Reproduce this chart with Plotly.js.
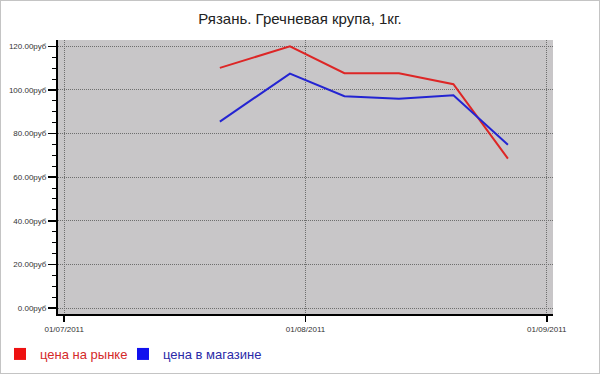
<!DOCTYPE html>
<html>
<head>
<meta charset="utf-8">
<script src="https://cdn.plot.ly/plotly-3.0.1.min.js"></script>
<style>
html,body{margin:0;padding:0;background:#fff;}
#chart{width:600px;height:374px;outline:1px solid #c4c4c4;outline-offset:-1px;}
</style>
</head>
<body>
<div id="chart"></div>
<script>
var dates = ['2011-07-21', '2011-07-30', '2011-08-06', '2011-08-13', '2011-08-20', '2011-08-27'];
var marketPrice = [110.1, 120.0, 107.7, 107.7, 102.6, 68.5];
var storePrice = [85.5, 107.5, 97.1, 96.0, 97.6, 74.9];
var seriesNames = ['цена на рынке', 'цена в магазине'];
var seriesColors = ['#dd2626', '#2424d2'];
var legendSwatchColors = ['#ee1111', '#1111ee'];
var legendTextColors = ['#d42a2a', '#2a2aa8'];
var titleText = 'Рязань. Гречневая крупа, 1кг.';

var traces = [
  {x: dates, y: marketPrice, type: 'scatter', mode: 'lines', line: {color: seriesColors[0], width: 2}, showlegend: false, legendgroup: 'a', hoverinfo: 'x+y'},
  {x: dates, y: storePrice, type: 'scatter', mode: 'lines', line: {color: seriesColors[1], width: 2}, showlegend: false, legendgroup: 'b', hoverinfo: 'x+y'},
  {x: [null], y: [null], type: 'bar', marker: {color: legendSwatchColors[0]}, legendgroup: 'a', legend: 'legend',
   name: '<span style="color:' + legendTextColors[0] + '">' + seriesNames[0] + '</span>'},
  {x: [null], y: [null], type: 'bar', marker: {color: legendSwatchColors[1]}, legendgroup: 'b', legend: 'legend2',
   name: '<span style="color:' + legendTextColors[1] + '">' + seriesNames[1] + '</span>'}
];

var legendFont = {family: 'Arial, "Liberation Sans", sans-serif', size: 13};

var layout = {
  width: 600, height: 374,
  paper_bgcolor: 'rgba(0,0,0,0)',
  plot_bgcolor: '#c8c6c8',
  margin: {l: 58, r: 47, t: 40, b: 60},
  font: {family: 'Arial, "Liberation Sans", sans-serif', color: '#333'},
  title: {text: titleText, x: 0.5, xanchor: 'center', y: 0.949, yanchor: 'middle',
          font: {family: 'Arial, "Liberation Sans", sans-serif', size: 15, color: '#222'}},
  xaxis: {
    type: 'date',
    range: ['2011-06-30 05:00', '2011-09-01 19:00'],
    tick0: '2011-07-01', dtick: 'M1', tickformat: '%d/%m/%Y',
    ticks: 'outside', ticklen: 6, tickwidth: 1.5, tickcolor: '#000',
    showline: true, linecolor: '#000', linewidth: 2,
    showgrid: true, gridcolor: '#6e6e6e', griddash: '1px,1px', gridwidth: 1,
    zeroline: false, fixedrange: true,
    tickfont: {size: 8, color: '#333'}
  },
  yaxis: {
    range: [-2.75, 122.9],
    dtick: 20, tick0: 0, tickformat: '.2f', ticksuffix: 'руб',
    ticks: 'outside', ticklen: 8, tickwidth: 1.5, tickcolor: '#000',
    minor: {dtick: 5, ticks: 'outside', ticklen: 4, tickwidth: 1, tickcolor: '#000', showgrid: false},
    showline: true, linecolor: '#000', linewidth: 2,
    showgrid: true, gridcolor: '#6e6e6e', griddash: '1px,1px', gridwidth: 1,
    zeroline: false, fixedrange: true,
    tickfont: {size: 8, color: '#333'}
  },
  showlegend: true,
  legend: {
    orientation: 'h', xref: 'container', yref: 'container',
    x: 0.0, xanchor: 'left', y: 0.0535, yanchor: 'middle',
    font: legendFont, bgcolor: 'rgba(0,0,0,0)'
  },
  legend2: {
    orientation: 'h', xref: 'container', yref: 'container',
    x: 0.205, xanchor: 'left', y: 0.0535, yanchor: 'middle',
    font: legendFont, bgcolor: 'rgba(0,0,0,0)'
  },
  bargap: 0.2
};

Plotly.newPlot('chart', traces, layout, {staticPlot: true, displayModeBar: false});
</script>
</body>
</html>
